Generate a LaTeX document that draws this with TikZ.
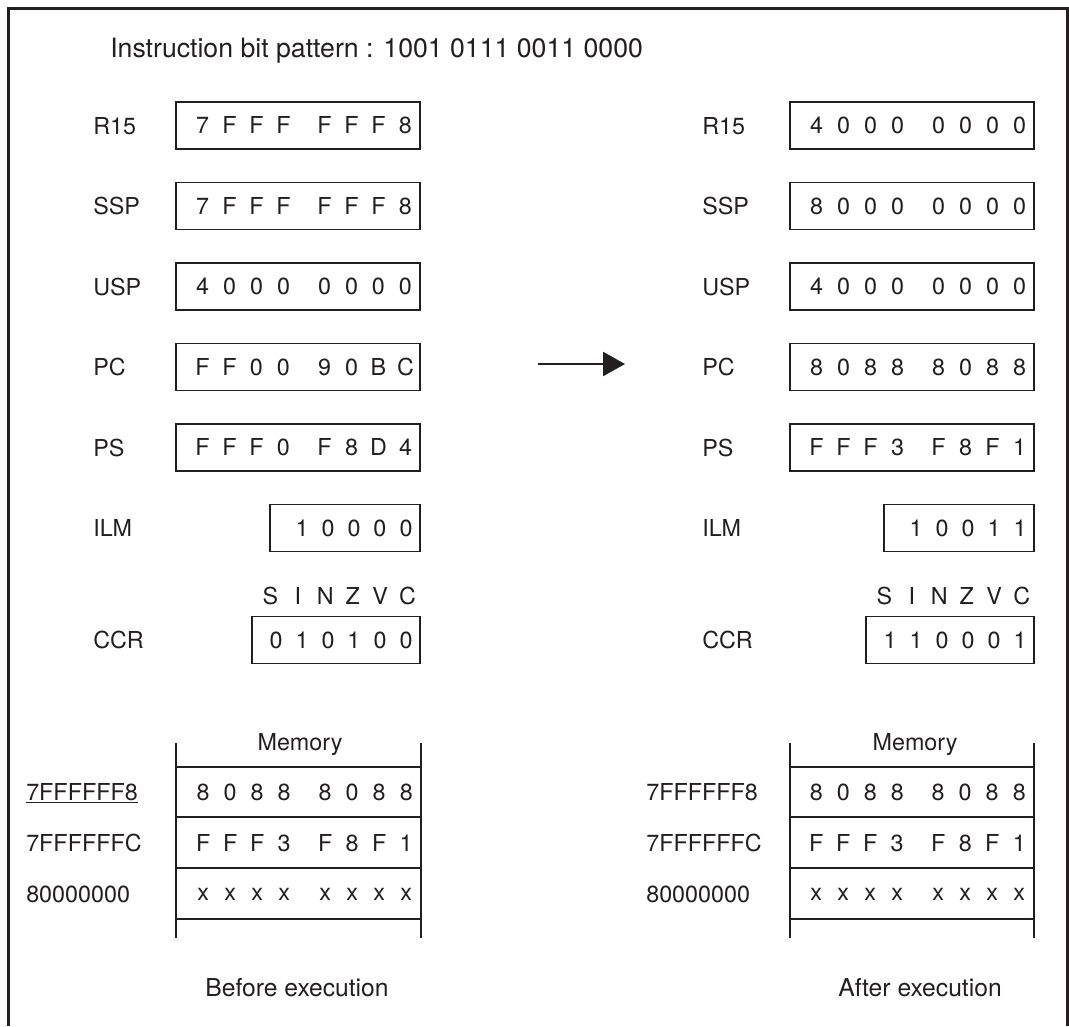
\documentclass[tikz,border=0pt]{standalone}
\usepackage{fontspec}
\setmainfont{TeX Gyre Heros}
\usetikzlibrary{arrows.meta}
\definecolor{ink}{RGB}{35,31,32}

% one fixed-width cell per character
\newcommand{\cells}[2][19.5pt]{\def\cellw{#1}\expandafter\cellsloop#2\relax}
\def\cellsloop#1{\ifx\relax#1\else\makebox[\cellw]{#1}\expandafter\cellsloop\fi}
\newcommand{\hexval}[2]{\cells[20.25pt]{#1}\hspace{10.5pt}\cells[20.25pt]{#2}}

\begin{document}
\begin{tikzpicture}[
    x=0.75pt, y=-0.75pt,
    >={Triangle[length=16.5pt, width=18pt]},
    every node/.style={font=\fontsize{17.5}{21}\selectfont, text=ink, inner sep=0pt},
    reglabel/.style={anchor=west, text depth=0pt},
    regbox/.style={draw=ink, line width=1pt, minimum height=35.25pt, inner xsep=0.75pt, text width=#1, align=right},
    memline/.style={draw=ink, line width=1pt},
    caption/.style={font=\fontsize{18.5}{22}\selectfont, text depth=0pt},
]
    \useasboundingbox (0,0) rectangle (1069,1026);

    % frame, open at the bottom
    \draw[ink, line width=2.25pt] (8,1026) -- (8,8) -- (1067,8) -- (1067,1026);

    % title
    \node[caption, anchor=west, font=\fontsize{20}{24}\selectfont] (title) at (110,48) {Instruction bit pattern : 1001 0111 0011 0000};

    % registers before execution
    \foreach \reg/\y/\hi/\lo in {R15/125.5/7FFF/FFF8, SSP/206/7FFF/FFF8, USP/286.5/4000/0000, PC/367/FF00/90BC, PS/447.5/FFF0/F8D4}{
        \node[reglabel] (\reg-b) at (93,\y) {\reg};
        \node[regbox=181.5pt] (\reg box-b) at (298,\y) {\hexval{\hi}{\lo}};
    }
    \node[reglabel] (ilm-b) at (93,528) {ILM};
    \node[regbox=111pt] (ilmbox-b) at (345,528) {\cells{10000}};
    \node (flags-b) at (339,596) {\cells[20.6pt]{SINZVC}};
    \node[reglabel] (ccr-b) at (93,640) {CCR};
    \node[regbox=124.5pt] (ccrbox-b) at (336,640) {\cells{010100}};

    % registers after execution
    \foreach \reg/\y/\hi/\lo in {R15/125.5/4000/0000, SSP/206/8000/0000, USP/286.5/4000/0000, PC/367/8088/8088, PS/447.5/FFF3/F8F1}{
        \node[reglabel] (\reg-a) at (702,\y) {\reg};
        \node[regbox=181.5pt] (\reg box-a) at (912,\y) {\hexval{\hi}{\lo}};
    }
    \node[reglabel] (ilm-a) at (702,528) {ILM};
    \node[regbox=111pt] (ilmbox-a) at (959,528) {\cells{10011}};
    \node (flags-a) at (953,596) {\cells[20.6pt]{SINZVC}};
    \node[reglabel] (ccr-a) at (702,640) {CCR};
    \node[regbox=124.5pt] (ccrbox-a) at (950,640) {\cells{110001}};

    % memory before execution
    \draw[memline] (176,743) -- (176,938) (421,743) -- (421,938);
    \draw[memline] (176,767) -- (421,767) (176,868) -- (421,868) (176,919) -- (421,919);
    \draw[memline, line width=1.8pt] (176,817) -- (421,817);
    \node[text depth=0pt] (mem-b) at (300,742) {Memory};
    \node[reglabel] (addr1-b) at (26,792) {\underline{7FFFFFF8}};
    \node[reglabel] (addr2-b) at (26,843) {7FFFFFFC};
    \node[reglabel] (addr3-b) at (26,894) {80000000};
    \node[anchor=east] (val1-b) at (420,792) {\hexval{8088}{8088}};
    \node[anchor=east] (val2-b) at (420,843) {\hexval{FFF3}{F8F1}};
    \node[anchor=east] (val3-b) at (420,894) {\hexval{xxxx}{xxxx}};

    % memory after execution
    \draw[memline] (790,743) -- (790,938) (1034,743) -- (1034,938);
    \draw[memline] (790,767) -- (1034,767) (790,868) -- (1034,868) (790,919) -- (1034,919);
    \draw[memline, line width=1.8pt] (790,817) -- (1034,817);
    \node[text depth=0pt] (mem-a) at (915,742) {Memory};
    \node[reglabel] (addr1-a) at (646,792) {7FFFFFF8};
    \node[reglabel] (addr2-a) at (646,843) {7FFFFFFC};
    \node[reglabel] (addr3-a) at (646,894) {80000000};
    \node[anchor=east] (val1-a) at (1033,792) {\hexval{8088}{8088}};
    \node[anchor=east] (val2-a) at (1033,843) {\hexval{FFF3}{F8F1}};
    \node[anchor=east] (val3-a) at (1033,894) {\hexval{xxxx}{xxxx}};

    % captions
    \node[caption] (before) at (297,987) {Before execution};
    \node[caption] (after) at (920,987) {After execution};

    % execution arrow
    \coordinate (arrS) at (538,364);
    \coordinate (arrE) at (625,364);
    \draw[->, ink, line width=1.8pt] (arrS) -- (arrE);
\end{tikzpicture}
\end{document}
